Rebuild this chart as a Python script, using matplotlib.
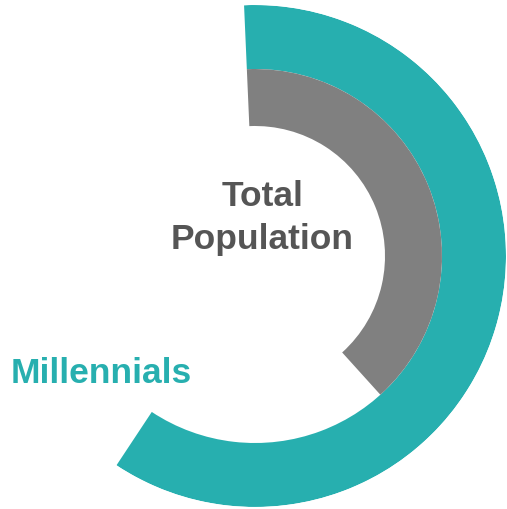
import matplotlib.pyplot as plt
import numpy as np

# share of a full circle (percent)
series = ["Millennials", "Total Population"]
values = [60, 39]
colors = ["#27AFAF", "#808080"]

W, H = 507, 510
fig = plt.figure(figsize=(W / 100, H / 100), dpi=100)

# polar axes: centre at (255, 257) px, outer radius 251 px
cx, cy, R = 255, 257, 251
ax = fig.add_axes([(cx - R) / W, (H - cy - R) / H, 2 * R / W, 2 * R / H],
                  projection="polar")
ax.set_theta_zero_location("N", offset=2.5)
ax.set_theta_direction(-1)
ax.set_ylim(0, R)
ax.axis("off")

ring_bottom = [187, 130]
ring_height = [64, 57]
for v, c, b, h in zip(values, colors, ring_bottom, ring_height):
    ax.bar(0, h, width=np.deg2rad(v / 100 * 360), bottom=b,
           align="edge", color=c, linewidth=0)

font = "Liberation Sans"
fs = 25.5
fig.text(262.5 / W, 1 - 206 / H, "Total", ha="center", va="baseline",
         fontsize=fs, fontweight="bold", color="#555555", family=font)
fig.text(262.5 / W, 1 - 249 / H, "Population", ha="center", va="baseline",
         fontsize=fs, fontweight="bold", color="#555555", family=font)
fig.text(11 / W, 1 - 383 / H, "Millennials", ha="left", va="baseline",
         fontsize=fs, fontweight="bold", color=colors[0], family=font)

fig.savefig("out.png", dpi=100, facecolor="white")
